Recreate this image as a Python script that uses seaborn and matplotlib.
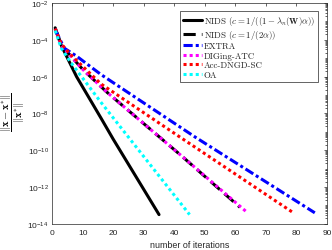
import numpy as np
import pandas as pd
import matplotlib
matplotlib.use("Agg")
import matplotlib.pyplot as plt
from matplotlib.ticker import FixedLocator, LogLocator, LogFormatterSciNotation, NullFormatter
from matplotlib.font_manager import FontProperties
import seaborn as sns

# ---- data ----
nids1_k = [1, 3, 8, 16, 20, 35]
nids1_err = [4.5e-4, 5e-5, 1e-6, 5.6e-9, 4e-10, 3.2e-14]

nids2_k = [1, 3, 10, 18, 42, 61.5]
nids2_err = [4e-4, 5e-5, 2.5e-6, 1.4e-7, 5.6e-11, 8e-14]

extra_k = [1, 4, 8, 16, 47, 86]
extra_err = [3.5e-4, 3.5e-5, 1.3e-5, 1.3e-6, 5e-10, 4e-14]

diging_k = [1, 3, 10, 18, 42, 64]
diging_err = [4e-4, 5e-5, 2.5e-6, 1.4e-7, 5.6e-11, 4e-14]

acc_k = [1, 3, 6, 16, 42, 79]
acc_err = [4e-4, 6e-5, 1.6e-5, 4e-7, 5e-10, 4e-14]

oa_k = [1, 3, 6, 16, 45]
oa_err = [3.2e-4, 3.5e-5, 6.3e-6, 4e-8, 3.2e-14]

labels = [
    r"NIDS ($c = 1/((1-\lambda_n(\mathbf{W})\alpha)$)",
    r"NIDS ($c = 1/(2\alpha)$)",
    "EXTRA",
    "DIGing-ATC",
    "Acc-DNGD-SC",
    "OA",
]
x_ticks = [0, 10, 20, 30, 40, 50, 60, 70, 80, 90]
y_ticks = [1e-14, 1e-12, 1e-10, 1e-8, 1e-6, 1e-4, 1e-2]

# ---- styling ----
sns.set_style("white")
plt.rcParams["font.family"] = ["Liberation Sans", "DejaVu Sans"]
plt.rcParams["mathtext.fontset"] = "custom"
plt.rcParams["mathtext.rm"] = "Liberation Sans"
plt.rcParams["mathtext.it"] = "Liberation Sans:italic"
plt.rcParams["mathtext.bf"] = "Liberation Sans:bold"
gray = "#262626"

fig = plt.figure(figsize=(3.32, 2.51), dpi=100)
ax = fig.add_axes([0.157, 0.104, 0.828, 0.88])

series = [
    (nids1_k, nids1_err, "black", "-"),
    (nids2_k, nids2_err, "black", (0, (4, 2))),
    (extra_k, extra_err, "#0000ff", (0, (3, 1, 1, 1))),
    (diging_k, diging_err, "#ff00ff", (0, (1, 1))),
    (acc_k, acc_err, "#ff0000", (0, (1, 1))),
    (oa_k, oa_err, "#00ffff", (0, (1, 1))),
]
for (k, e, c, ls), lab in zip(series, labels):
    df = pd.DataFrame({"k": k, "err": e})
    sns.lineplot(data=df, x="k", y="err", ax=ax, color=c, linestyle=ls,
                 lw=2.2, label=lab, sort=False, estimator=None)

ax.set_yscale("log")
ax.set_xlim(0, 90)
ax.set_ylim(1e-14, 1e-2)
ax.xaxis.set_major_locator(FixedLocator(x_ticks))
ax.yaxis.set_major_locator(FixedLocator(y_ticks))
ax.yaxis.set_major_formatter(LogFormatterSciNotation())
ax.yaxis.set_minor_locator(LogLocator(base=10, subs=np.arange(1, 10), numticks=100))
ax.yaxis.set_minor_formatter(NullFormatter())

for s in ax.spines.values():
    s.set_color(gray)
    s.set_linewidth(0.5)
    s.set_visible(True)
ax.tick_params(which="both", direction="in", top=True, right=True,
               colors=gray, width=0.5, labelsize=6)
ax.tick_params(axis="x", pad=3.5)
ax.tick_params(axis="y", pad=2.5)
ax.tick_params(which="major", length=2.2)
ax.tick_params(which="minor", length=1.1)

ax.set_xlabel("number of iterations", fontsize=6.4, color=gray, labelpad=3)
ylab = ax.set_ylabel(r"$\dfrac{\|\mathbf{x}-\mathbf{x}^{*}\|}{\|\mathbf{x}^{*}\|}$",
                     fontsize=7.5, color="black")
ylab.set_math_fontfamily("cm")
ax.yaxis.set_label_coords(-0.092, 0.51)

prop = FontProperties(family="cmr10", size=6.4, math_fontfamily="cm")
leg = ax.legend(loc="upper right", bbox_to_anchor=(0.968, 0.966), prop=prop,
                frameon=True, fancybox=False, framealpha=1, edgecolor=gray,
                handlelength=2.15, handletextpad=0.25, labelspacing=0.12,
                borderpad=0.35, borderaxespad=0)
leg.get_frame().set_linewidth(0.5)

fig.savefig("out.png", dpi=100)
